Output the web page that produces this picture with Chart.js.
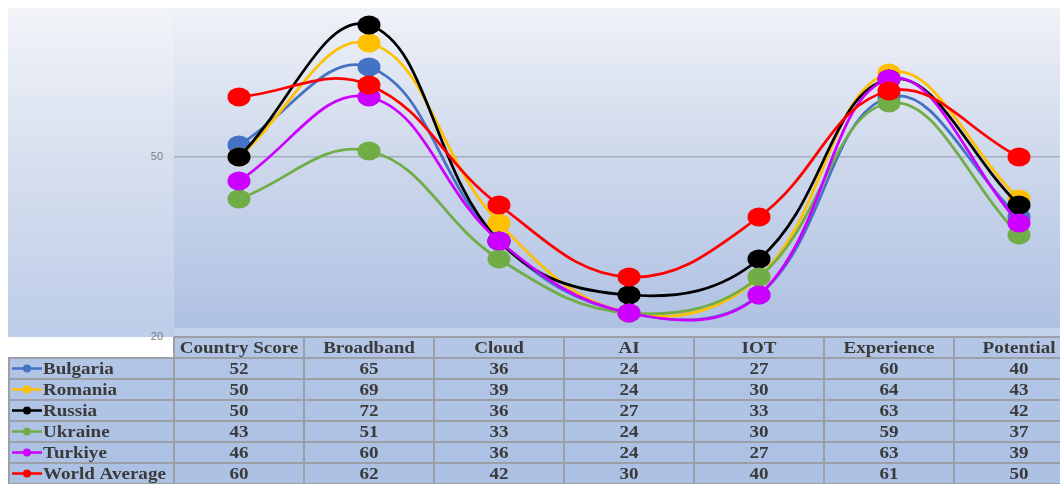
<!DOCTYPE html>
<html>
<head>
<meta charset="utf-8">
<title>Digital scores by country</title>
<script src="https://cdn.jsdelivr.net/npm/chart.js@4/dist/chart.umd.min.js"></script>
<style>
  html { margin: 0; padding: 0; overflow: hidden; background: #ffffff; }
  body { margin: 0; padding: 0; width: 1084px; height: 484px; background: #ffffff; }
  canvas { display: block; }
</style>
</head>
<body>
<canvas id="chart" width="1084" height="484"></canvas>
<script>
// Categories and per-country scores
const categories = ['Country Score', 'Broadband', 'Cloud', 'AI', 'IOT', 'Experience', 'Potential'];
const bulgaria = [52, 65, 36, 24, 27, 60, 40];
const romania = [50, 69, 39, 24, 30, 64, 43];
const russia = [50, 72, 36, 27, 33, 63, 42];
const ukraine = [43, 51, 33, 24, 30, 59, 37];
const turkiye = [46, 60, 36, 24, 27, 63, 39];
const worldAverage = [60, 62, 42, 30, 40, 61, 50];
const seriesNames = ['Bulgaria', 'Romania', 'Russia', 'Ukraine', 'Turkiye', 'World Average'];
const seriesValues = [bulgaria, romania, russia, ukraine, turkiye, worldAverage];
const seriesColors = ['#4472C4', '#FFC000', '#000000', '#70AD47', '#CC00FF', '#FF0000'];
const yTicks = [20, 50];

// Layout constants
const CANVAS_W = 1084, CANVAS_H = 484;
const PANEL_X = 8, PANEL_Y = 8;
const PLOT_LEFT = 174, PLOT_TOP = 7;
const TABLE_ROW_H = 21;
const TABLE_ROWS = seriesNames.length + 1;
const TABLE_H = TABLE_ROW_H * TABLE_ROWS;
const PLOT_BOTTOM = CANVAS_H - TABLE_H;
const TABLE_FONT = 'bold 16px "Liberation Serif", "Times New Roman", serif';
const TEXT_SX = 1.19;

// Oval marker bitmaps
function makeMarker(color) {
  const c = document.createElement('canvas');
  c.width = 24; c.height = 20;
  const g = c.getContext('2d');
  g.fillStyle = color;
  g.beginPath();
  g.ellipse(12, 10, 11.5, 9.5, 0, 0, Math.PI * 2);
  g.fill();
  return c;
}

function stretchedText(ctx, text, x, y, align) {
  ctx.save();
  ctx.translate(x, y);
  ctx.scale(TEXT_SX, 1);
  ctx.textAlign = align;
  ctx.textBaseline = 'middle';
  ctx.fillText(text, 0, 0);
  ctx.restore();
}

// Fix the plot rectangle so the table columns line up with the categories
const fixedAreaPlugin = {
  id: 'fixedArea',
  afterLayout(chart) {
    const area = chart.chartArea;
    area.left = PLOT_LEFT;
    area.right = CANVAS_W;
    area.top = PLOT_TOP;
    area.bottom = PLOT_BOTTOM;
    area.width = area.right - area.left;
    area.height = area.bottom - area.top;
    const x = chart.scales.x;
    x.left = area.left; x.right = area.right; x.width = area.width;
    x.configure();
    const y = chart.scales.y;
    y.left = 0; y.right = area.left; y.width = area.left;
    y.top = area.top; y.bottom = area.bottom; y.height = area.height;
    y.configure();
  }
};

const backgroundPlugin = {
  id: 'panelBackground',
  beforeDraw(chart) {
    const ctx = chart.ctx;
    const W = chart.width, H = chart.height;
    const area = chart.chartArea;
    ctx.save();
    ctx.fillStyle = '#ffffff';
    ctx.fillRect(0, 0, W, H);
    // outer panel
    let g = ctx.createLinearGradient(0, PANEL_Y, 0, area.bottom);
    g.addColorStop(0, '#f2f4f8');
    g.addColorStop(0.45, '#d8e0ef');
    g.addColorStop(1, '#bdcce8');
    ctx.fillStyle = g;
    ctx.fillRect(PANEL_X, PANEL_Y, W - PANEL_X, area.bottom - PANEL_Y);
    // plot area
    g = ctx.createLinearGradient(0, PANEL_Y, 0, area.bottom - 9);
    g.addColorStop(0, '#eff2f7');
    g.addColorStop(0.45, '#cfd9ec');
    g.addColorStop(1, '#afc1e3');
    ctx.fillStyle = g;
    ctx.fillRect(area.left, PANEL_Y, W - area.left, area.bottom - 9 - PANEL_Y);
    // lighter strip along the plot floor
    ctx.fillStyle = '#c3d1eb';
    ctx.fillRect(area.left, area.bottom - 9, W - area.left, 9);
    // table area
    g = ctx.createLinearGradient(0, area.bottom, 0, H);
    g.addColorStop(0, '#b3c6e6');
    g.addColorStop(1, '#abc0e3');
    ctx.fillStyle = g;
    ctx.fillRect(PANEL_X, area.bottom + TABLE_ROW_H, W - PANEL_X, H - area.bottom);
    ctx.fillRect(area.left, area.bottom, W - area.left, TABLE_ROW_H);
    ctx.restore();
  }
};

const dataTablePlugin = {
  id: 'dataTable',
  afterDraw(chart) {
    const ctx = chart.ctx;
    const x = chart.scales.x;
    const top = chart.chartArea.bottom;
    const W = chart.width;
    const half = (x.getPixelForValue(1) - x.getPixelForValue(0)) / 2;
    ctx.save();
    // grid lines
    ctx.strokeStyle = '#9c9fa6';
    ctx.lineWidth = 2;
    ctx.beginPath();
    for (let r = 0; r <= TABLE_ROWS; r++) {
      const y = top + r * TABLE_ROW_H;
      ctx.moveTo(r === 0 ? x.getPixelForValue(0) - half : PANEL_X, y);
      ctx.lineTo(W, y);
    }
    for (let i = 0; i <= categories.length; i++) {
      const cx = x.getPixelForValue(0) - half + i * half * 2;
      ctx.moveTo(cx, top);
      ctx.lineTo(cx, top + TABLE_H);
    }
    ctx.moveTo(PANEL_X + 1, top + TABLE_ROW_H);
    ctx.lineTo(PANEL_X + 1, top + TABLE_H);
    ctx.stroke();

    ctx.font = TABLE_FONT;
    ctx.fillStyle = '#3a3a3a';
    // header
    categories.forEach((c, i) => {
      stretchedText(ctx, c, x.getPixelForValue(i), top + TABLE_ROW_H / 2 + 1, 'center');
    });
    // rows
    seriesNames.forEach((name, s) => {
      const cy = top + (s + 1) * TABLE_ROW_H + TABLE_ROW_H / 2 + 1;
      // legend key
      ctx.strokeStyle = seriesColors[s];
      ctx.lineWidth = 2.5;
      ctx.beginPath();
      ctx.moveTo(12, cy - 1);
      ctx.lineTo(42, cy - 1);
      ctx.stroke();
      ctx.fillStyle = seriesColors[s];
      ctx.beginPath();
      ctx.arc(27, cy - 1, 4, 0, Math.PI * 2);
      ctx.fill();
      ctx.fillStyle = '#3a3a3a';
      stretchedText(ctx, name, 43, cy, 'left');
      seriesValues[s].forEach((v, i) => {
        stretchedText(ctx, String(v), x.getPixelForValue(i), cy, 'center');
      });
    });
    ctx.restore();
  }
};

const datasets = seriesNames.map((name, i) => ({
  label: name,
  data: seriesValues[i],
  borderColor: seriesColors[i],
  backgroundColor: seriesColors[i],
  borderWidth: 2.75,
  tension: 0.4,
  pointStyle: makeMarker(seriesColors[i]),
  pointRadius: 10,
  pointHoverRadius: 10,
  fill: false,
  clip: false,
  order: seriesNames.length - i
}));

new Chart(document.getElementById('chart'), {
  type: 'line',
  data: { labels: categories, datasets },
  options: {
    responsive: false,
    animation: false,
    devicePixelRatio: 1,
    layout: { padding: { top: PLOT_TOP, bottom: TABLE_H, left: 0, right: 0 } },
    plugins: { legend: { display: false }, tooltip: { enabled: false } },
    scales: {
      x: {
        type: 'category',
        offset: true,
        display: false
      },
      y: {
        min: 20,
        max: 75,
        afterBuildTicks(axis) { axis.ticks = yTicks.map(v => ({ value: v })); },
        afterFit(axis) { axis.width = PLOT_LEFT; },
        border: { display: false },
        grid: {
          drawTicks: false,
          color: ctx => (ctx.tick && ctx.tick.value === 50 ? '#a6aebd' : 'rgba(0,0,0,0)'),
          lineWidth: 1.5
        },
        ticks: {
          padding: 11,
          color: '#7a7a7a',
          font: { family: '"Liberation Sans", Arial, sans-serif', size: 11 }
        }
      }
    }
  },
  plugins: [fixedAreaPlugin, backgroundPlugin, dataTablePlugin]
});
</script>
</body>
</html>
